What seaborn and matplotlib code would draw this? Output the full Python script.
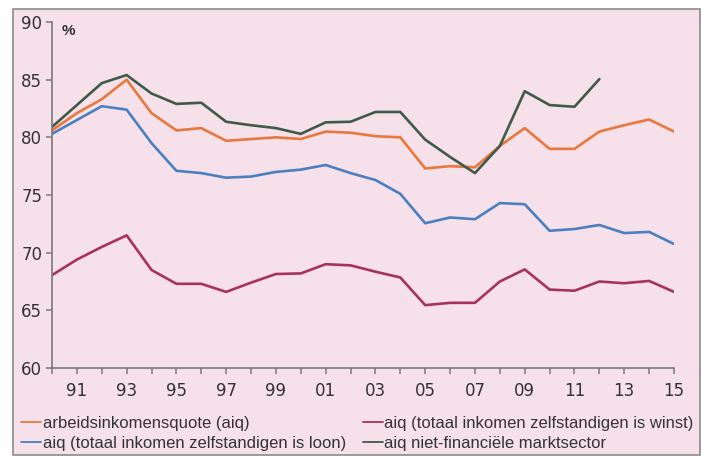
import pandas as pd
import numpy as np
import matplotlib.pyplot as plt
import matplotlib.patches as patches
from matplotlib.ticker import MultipleLocator
import seaborn as sns

sns.set_theme(style="ticks")
plt.rcParams['font.family'] = ['Liberation Sans', 'DejaVu Sans']

jaren = list(range(1990, 2016))

aiq = [80.6, 82.1, 83.3, 85.0, 82.1, 80.6, 80.8, 79.7, 79.85, 80.0, 79.85, 80.5, 80.4,
       80.1, 80.0, 77.3, 77.5, 77.4, 79.25, 80.8, 79.0, 79.0, 80.5, 81.05, 81.55, 80.5]
aiq_loon = [80.3, 81.5, 82.7, 82.4, 79.5, 77.1, 76.9, 76.5, 76.6, 77.0, 77.2, 77.6, 76.9,
            76.3, 75.1, 72.55, 73.05, 72.9, 74.3, 74.2, 71.9, 72.05, 72.4, 71.7, 71.8, 70.75]
aiq_winst = [68.05, 69.4, 70.5, 71.5, 68.5, 67.3, 67.3, 66.6, 67.4, 68.15, 68.2, 69.0, 68.9,
             68.35, 67.85, 65.45, 65.65, 65.65, 67.5, 68.55, 66.8, 66.7, 67.5, 67.35, 67.55, 66.6]
aiq_nfm = [80.9, 82.8, 84.7, 85.4, 83.8, 82.9, 83.0, 81.35, 81.05, 80.8, 80.3, 81.3, 81.35,
           82.2, 82.2, 79.8, 78.3, 76.9, 79.25, 84.0, 82.8, 82.65, 85.05]

namen = ['arbeidsinkomensquote (aiq)',
         'aiq (totaal inkomen zelfstandigen is loon)',
         'aiq (totaal inkomen zelfstandigen is winst)',
         'aiq niet-financiële marktsector']
kleuren = ['#e8783c', '#4a7fc0', '#a8325e', '#3f5a48']

rijen = []
for naam, reeks in zip(namen, [aiq, aiq_loon, aiq_winst, aiq_nfm]):
    for jaar, waarde in zip(jaren, reeks):
        rijen.append({'jaar': jaar, 'waarde': waarde, 'reeks': naam})
df = pd.DataFrame(rijen)

roze = '#f6e0ea'
fig = plt.figure(figsize=(7.02, 4.58), dpi=100, facecolor='white')
fig.patches.append(patches.Rectangle((13 / 702, 1 - 455 / 458), 687 / 702, 446 / 458,
                                     transform=fig.transFigure, facecolor=roze,
                                     edgecolor='#8a8a8a', linewidth=1.2, zorder=-1))
ax = fig.add_axes([52 / 702, 1 - 368 / 458, 622 / 702, 346 / 458])
ax.patch.set_alpha(0)

sns.lineplot(data=df, x='jaar', y='waarde', hue='reeks', hue_order=namen,
             palette=dict(zip(namen, kleuren)), linewidth=1.9, ax=ax, legend=False)

ax.set_xlim(1990, 2015)
ax.set_ylim(60, 90)
ax.set_yticks(range(60, 91, 5))
ax.set_xticks(range(1991, 2016, 2))
ax.set_xticklabels([f'{j % 100:02d}' for j in range(1991, 2016, 2)])
ax.xaxis.set_minor_locator(MultipleLocator(1))
ax.set_xlabel('')
ax.set_ylabel('')

for s in ['top', 'right']:
    ax.spines[s].set_visible(False)
for s in ['left', 'bottom']:
    ax.spines[s].set_color('#7a7a7a')
    ax.spines[s].set_linewidth(1.2)

ax.tick_params(axis='both', which='both', direction='out', color='#7a7a7a',
               length=4, width=1.1, labelsize=12, labelcolor='#333333',
               bottom=True, left=True)
ax.tick_params(axis='x', which='both', pad=6)
ax.tick_params(axis='y', pad=3)
for lab in ax.get_xticklabels() + ax.get_yticklabels():
    lab.set_family(['DejaVu Sans'])

ax.text(0.016, 0.995, '%', transform=ax.transAxes, fontsize=11, color='#333333',
        fontweight='bold', va='top', ha='left')

handles = [plt.Line2D([], [], color=k, linewidth=1.3) for k in kleuren]
fig.legend(handles, namen, ncol=2, loc='upper left', bbox_to_anchor=(21 / 702, 1 - 416 / 458),
           frameon=False, fontsize=12, handlelength=1.2, handletextpad=0.1,
           columnspacing=1.0, labelspacing=0.3, borderaxespad=0, borderpad=0,
           labelcolor='#333333')

plt.savefig('out.png', dpi=100, facecolor='white')
plt.close()
